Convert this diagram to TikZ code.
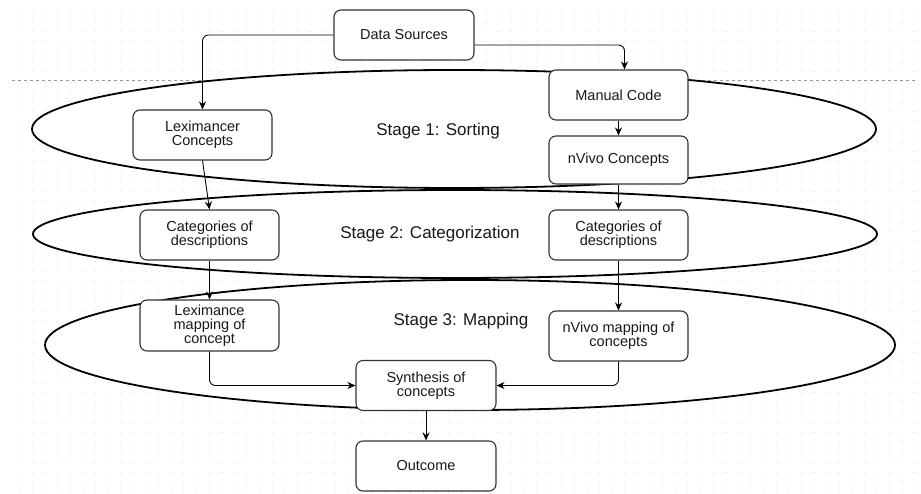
\documentclass[tikz,border=0pt]{standalone}
\usepackage{fontspec}
\setmainfont{Liberation Sans}
\usetikzlibrary{arrows.meta}
\begin{document}
\begin{tikzpicture}[x=1pt,y=-1pt,
  box/.style={draw=black!80, line width=1.1pt, rounded corners=7pt, fill=white,
    minimum width=139pt, minimum height=50pt, align=center, inner sep=2pt,
    font=\fontsize{14.5}{14}\selectfont, text=black!90},
  stagebox/.style={draw=black, line width=1.8pt, fill=white},
  stagelabel/.style={font=\fontsize{17}{18}\selectfont, text=black!90},
  conn/.style={draw=black, line width=0.9pt, rounded corners=6pt, -{Stealth[length=8pt,width=7pt]}},
  griddots/.style={draw=black!15, line width=1pt, dash pattern=on 1pt off 11.6pt}
]
\useasboundingbox (0,0) rectangle (921,494);
\fill[white] (0,0) rectangle (921,494);
% background grid
\foreach \yy in {12,22,...,492} {
  \draw[griddots] (19.5,\yy) -- (921,\yy);
}
\draw[draw=black!40, line width=0.8pt, dash pattern=on 3pt off 3pt] (12,80.5) -- (918,80.5);
% stages
\draw[stagebox] (454,129) ellipse [x radius=422, y radius=59];
\draw[stagebox] (455,234) ellipse [x radius=422, y radius=44];
\draw[stagebox] (470,345) ellipse [x radius=425, y radius=65];
\node[stagelabel] (s1) at (438,131) {Stage 1: Sorting};
\node[stagelabel] (s2) at (430,234) {Stage 2: Categorization};
\node[stagelabel] (s3) at (461,321) {Stage 3: Mapping};
% nodes
\node[box, minimum width=140pt] (ds) at (404,35) {Data Sources};
\node[box] (lex) at (202.5,135) {Leximancer\\Concepts};
\node[box] (mc) at (618.5,95) {Manual Code};
\node[box, minimum height=48pt] (nvc) at (618.5,160) {nVivo Concepts};
\node[box] (catL) at (209.5,235) {Categories of\\descriptions};
\node[box] (catR) at (618.5,235) {Categories of\\descriptions};
\node[box, minimum height=51pt] (lmap) at (209.5,325.5) {Leximance\\mapping of\\concept};
\node[box] (nmap) at (618.5,336) {nVivo mapping of\\concepts};
\node[box, minimum width=140pt] (syn) at (426,385.5) {Synthesis of\\concepts};
\node[box, minimum width=140pt] (out) at (426,466) {Outcome};
% connectors
\draw[conn] (ds.west) -| (lex.north);
\draw[conn] ([yshift=-10pt]ds.east) -| ([xshift=6pt]mc.north);
\draw[conn] (mc.south) -- (nvc.north);
\draw[conn] (nvc.south) -- (catR.north);
\draw[conn] (lex.south) -- (catL.north);
\draw[conn] (catL.south) -- (lmap.north);
\draw[conn] (catR.south) -- (nmap.north);
\draw[conn] (lmap.south) |- (syn.west);
\draw[conn] (nmap.south) |- (syn.east);
\draw[conn] (syn.south) -- (out.north);
\end{tikzpicture}
\end{document}
